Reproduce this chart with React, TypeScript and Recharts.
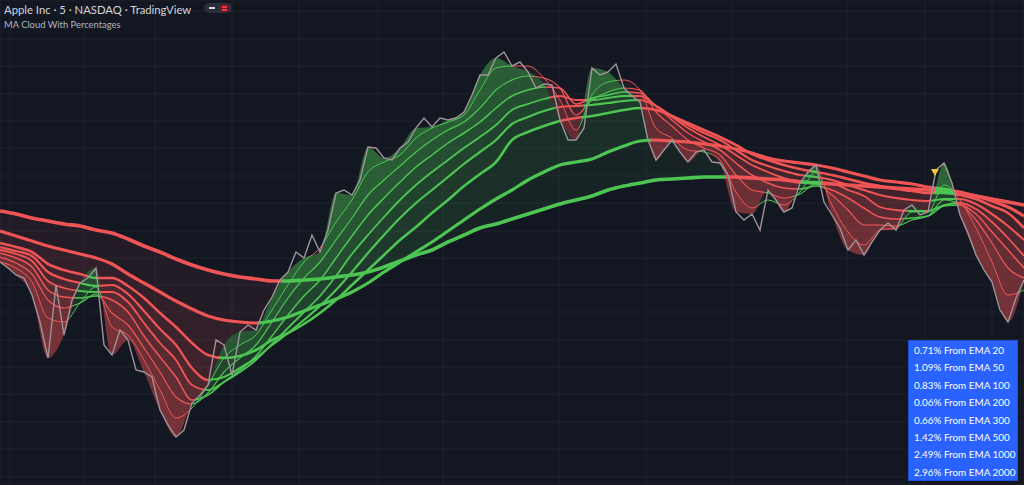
import React from "react";
import {
  ComposedChart,
  Line,
  Area,
  Scatter,
  XAxis,
  YAxis,
  CartesianGrid,
} from "recharts";

// AAPL 5-min with the "MA Cloud With Percentages" study.
// Levels on an inverted scale (0 = top).

const W = 1024;
const H = 485;
const BG = "#131722";
const GRID = "#1e222d";
const RED = "#f05454";
const GREEN = "#4cc552";

// price readings, one every 8 px of time
const price = [
  262, 268, 275, 278, 295, 322, 358, 285, 335, 300, 283, 278, 268, 345, 355, 330,
  340, 370, 372, 377, 410, 425, 437, 430, 403, 395, 385, 340, 345, 375, 332, 325,
  330, 310, 297, 280, 272, 252, 258, 235, 252, 230, 193, 190, 195, 180, 147, 148,
  158, 160, 148, 142, 128, 118, 127, 118, 120, 118, 112, 95, 75, 75, 58, 52,
  66, 62, 72, 88, 84, 85, 120, 140, 140, 128, 68, 75, 72, 64, 88, 96,
  102, 140, 160, 150, 140, 152, 162, 152, 150, 162, 163, 175, 212, 220, 214, 230,
  190, 200, 212, 208, 183, 172, 165, 202, 215, 228, 250, 240, 255, 242, 230, 223,
  230, 210, 205, 215, 212, 170, 163, 183, 215, 233, 255, 270, 282, 310, 322, 298,
  280,
];

// EMA readings, one every 16 px of time
const ema20 = [
  262, 268, 282, 318, 322, 303, 287, 327, 335, 360, 390, 418, 408, 385, 358, 345,
  335, 310, 285, 262, 248, 222, 200, 172, 162, 155, 138, 128, 122, 115, 90, 68,
  66, 66, 78, 100, 130, 95, 82, 80, 90, 128, 138, 150, 152, 160, 192, 208,
  200, 205, 192, 172, 205, 232, 245, 230, 228, 212, 212, 185, 200, 228, 262, 295,
  290,
];
const ema50 = [
  257, 263, 274, 300, 308, 303, 294, 313, 325, 348, 372, 397, 404, 393, 372, 358,
  345, 322, 298, 278, 262, 240, 218, 195, 180, 166, 152, 140, 130, 122, 108, 90,
  80, 76, 78, 88, 115, 100, 92, 88, 90, 112, 126, 140, 148, 155, 175, 190,
  193, 198, 194, 184, 195, 210, 225, 225, 226, 220, 216, 200, 204, 220, 243, 268,
  278,
];
const ema100 = [
  253, 258, 267, 290, 297, 298, 296, 300, 312, 336, 357, 377, 400, 395, 382, 370,
  356, 336, 315, 296, 280, 258, 236, 215, 198, 182, 167, 155, 143, 133, 122, 108,
  96, 90, 87, 88, 104, 98, 95, 92, 93, 106, 120, 133, 142, 150, 163, 175,
  183, 188, 189, 186, 190, 198, 208, 217, 219, 218, 216, 206, 205, 214, 232, 250,
  268,
];
const ema200 = [
  250, 254, 261, 281, 288, 291, 292, 292, 302, 323, 343, 360, 385, 390, 382, 372,
  360, 344, 328, 312, 296, 276, 254, 235, 217, 200, 185, 172, 160, 148, 137, 125,
  110, 104, 99, 96, 100, 100, 98, 96, 96, 106, 117, 128, 137, 145, 155, 165,
  172, 178, 181, 182, 183, 190, 196, 207, 210, 211, 211, 205, 203, 209, 222, 238,
  256,
];
const ema300 = [
  247, 251, 256, 272, 279, 283, 286, 285, 294, 311, 329, 345, 368, 380, 377, 368,
  358, 345, 333, 320, 306, 290, 272, 253, 235, 218, 203, 190, 177, 164, 152, 140,
  124, 117, 111, 107, 106, 105, 103, 101, 100, 106, 116, 125, 133, 140, 150, 160,
  166, 171, 175, 177, 180, 185, 190, 195, 198, 200, 201, 199, 199, 204, 214, 226,
  240,
];
const ema500 = [
  243, 247, 252, 264, 270, 274, 278, 278, 286, 298, 313, 327, 343, 355, 358, 356,
  350, 340, 333, 324, 313, 300, 285, 270, 255, 240, 227, 213, 200, 186, 174, 162,
  140, 132, 126, 121, 118, 116, 113, 110, 108, 110, 116, 123, 130, 137, 145, 154,
  160, 165, 169, 172, 175, 179, 183, 186, 189, 191, 193, 193, 195, 199, 206, 213,
  228,
];
const ema1000 = [
  231, 236, 241, 246, 250, 254, 258, 264, 274, 283, 292, 301, 309, 316, 320, 322,
  323, 321, 317, 311, 305, 299, 292, 283, 272, 262, 252, 242, 231, 220, 209, 199,
  190, 180, 172, 165, 162, 159, 152, 146, 141, 140, 141, 142, 144, 146, 149, 153,
  158, 161, 163, 165, 168, 172, 176, 180, 182, 184, 187, 189, 192, 196, 201, 207,
  216,
];
const ema2000 = [
  211, 214, 218, 221, 224, 226, 230, 233, 239, 246, 252, 259, 265, 270, 274, 277,
  279, 281, 281, 280, 279, 277, 275, 272, 267, 261, 255, 250, 242, 235, 228, 224,
  219, 214, 209, 204, 200, 196, 190, 186, 183, 180, 179, 178, 177, 177, 177, 178,
  179, 180, 182, 183, 184, 185, 186, 187, 188, 189, 190, 191, 193, 196, 199, 202,
  205,
];

const emaLengths = [20, 50, 100, 200, 300, 500, 1000, 2000];
const emaValues = [ema20, ema50, ema100, ema200, ema300, ema500, ema1000, ema2000];
const emaWidths = [1, 1.2, 1.5, 1.8, 2.2, 2.6, 3.2, 3.6];
const pctFromEma = [0.71, 1.09, 0.83, 0.06, 0.66, 1.42, 2.49, 2.96];

// sell signal marker
const signalX = [935];
const signalLevel = [172];

// faint chart grid
const timeTicks = [10, 84, 155, 232, 299, 378, 443, 559, 646, 732, 847, 925, 992];
const levelTicks = [11, 39, 66, 94, 121, 148, 176, 203, 231, 258, 285, 312, 340, 367, 394, 422, 449, 477];

const priceRows = price.map((v, i) => ({ x: i * 8, v }));
const priceAtEma = ema20.map((_, i) => price[i * 2]);

const cloudRows = ema20.map((_, i) => {
  const row: Record<string, number> = { x: i * 16, price: priceAtEma[i] };
  emaLengths.forEach((len, k) => {
    row[`e${len}`] = emaValues[k][i];
  });
  return row;
});

// green while price trades above the average, red below; hard stops at the crossings
function colorStops(ema: number[]) {
  const above = (i: number) => priceAtEma[i] <= ema[i];
  const last = ema.length - 1;
  let cur = above(0);
  const stops = [{ offset: 0, up: cur }];
  for (let i = 1; i <= last; i++) {
    const u = above(i);
    if (u !== cur) {
      const d0 = ema[i - 1] - priceAtEma[i - 1];
      const d1 = ema[i] - priceAtEma[i];
      const t = d0 / (d0 - d1);
      const offset = (i - 1 + t) / last;
      stops.push({ offset, up: cur });
      stops.push({ offset, up: u });
      cur = u;
    }
  }
  stops.push({ offset: 1, up: cur });
  return stops;
}

const SignalMark = (props: any) => {
  const { cx, cy } = props;
  if (cx == null || cy == null) return null;
  return <path d={`M${cx - 4},${cy - 3}L${cx + 4},${cy - 3}L${cx},${cy + 4}Z`} fill="#f5c53a" />;
};

export default function App() {
  return (
    <div
      style={{
        position: "fixed",
        left: 0,
        top: 0,
        width: W,
        height: H,
        background: BG,
        overflow: "hidden",
        fontFamily: "Lato, 'Liberation Sans', sans-serif",
      }}
    >
      <ComposedChart width={W} height={H} data={cloudRows} margin={{ top: 0, right: 0, bottom: 0, left: 0 }}>
        <defs>
          {emaLengths.map((len, k) => (
            <linearGradient key={len} id={`grad${len}`} x1="0" y1="0" x2="1" y2="0">
              {colorStops(emaValues[k]).map((s, j) => (
                <stop key={j} offset={s.offset} stopColor={s.up ? GREEN : RED} />
              ))}
            </linearGradient>
          ))}
        </defs>
        <CartesianGrid stroke={GRID} strokeWidth={1} />
        <XAxis dataKey="x" type="number" domain={[0, 1024]} ticks={timeTicks} interval={0} hide />
        <YAxis type="number" domain={[0, 485]} ticks={levelTicks} interval={0} reversed hide />

        {emaLengths.map((len) => (
          <Area
            key={`cloud${len}`}
            type="monotone"
            dataKey={(d: any) => [d[`e${len}`], d.price]}
            stroke="none"
            fill={`url(#grad${len})`}
            fillOpacity={0.07}
            dot={false}
            activeDot={false}
            isAnimationActive={false}
          />
        ))}

        {emaLengths.map((len, k) => (
          <Line
            key={`ema${len}`}
            type="monotone"
            dataKey={`e${len}`}
            stroke={`url(#grad${len})`}
            strokeWidth={emaWidths[k]}
            dot={false}
            activeDot={false}
            isAnimationActive={false}
          />
        ))}

        <Line
          data={priceRows}
          dataKey="v"
          type="linear"
          stroke="#9f939a"
          strokeWidth={1.4}
          dot={false}
          activeDot={false}
          isAnimationActive={false}
        />

        <Scatter
          data={signalX.map((x, i) => ({ x, s: signalLevel[i] }))}
          dataKey="s"
          shape={SignalMark}
          isAnimationActive={false}
        />
      </ComposedChart>

      {/* legend, top left */}
      <div style={{ position: "absolute", left: 4, top: 3, color: "#d1d4dc", fontSize: 11.3, lineHeight: "14px", whiteSpace: "nowrap" }}>
        Apple Inc · 5 · NASDAQ · TradingView
      </div>
      <div
        style={{
          position: "absolute",
          left: 204,
          top: 3,
          width: 28,
          height: 10,
          borderRadius: 5,
          background: "#2a2e39",
        }}
      >
        <div style={{ position: "absolute", left: 5, top: 4, width: 6, height: 2, background: "#d1d4dc" }} />
        <div style={{ position: "absolute", left: 15, top: 1, width: 11, height: 8, borderRadius: 4, background: "#5a2333" }} />
        <div style={{ position: "absolute", left: 18, top: 3, width: 5, height: 1.5, background: "#f23645" }} />
        <div style={{ position: "absolute", left: 18, top: 6, width: 5, height: 1.5, background: "#f23645" }} />
      </div>
      <div style={{ position: "absolute", left: 4, top: 19, color: "#b2b5be", fontSize: 9.4, lineHeight: "12px", whiteSpace: "nowrap" }}>
        MA Cloud With Percentages
      </div>

      {/* percent-from-EMA table, bottom right */}
      <div
        style={{
          position: "absolute",
          left: 908,
          top: 340,
          width: 110,
          height: 141,
          background: "#2962ff",
          border: "1px solid #1f4fd8",
          boxSizing: "border-box",
          paddingTop: 1,
        }}
      >
        {emaLengths.map((len, k) => (
          <div
            key={len}
            style={{ height: 17.4, lineHeight: "17.4px", paddingLeft: 5, color: "#ffffff", fontSize: 9.9, whiteSpace: "nowrap" }}
          >
            {`${pctFromEma[k].toFixed(2)}% From EMA ${len}`}
          </div>
        ))}
      </div>
    </div>
  );
}
